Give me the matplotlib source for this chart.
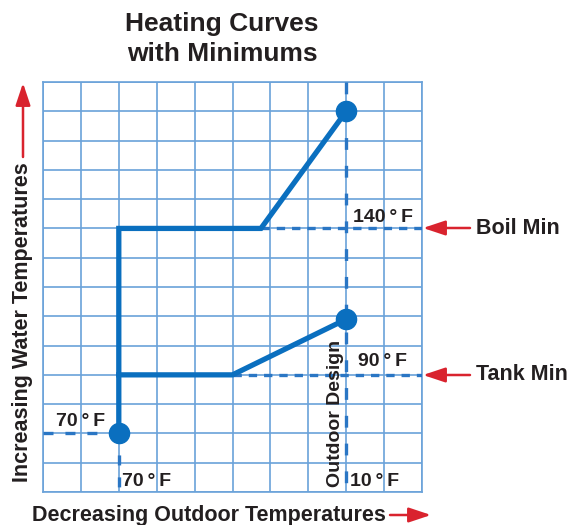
import matplotlib
matplotlib.use("Agg")
import matplotlib.pyplot as plt

plt.rcParams["font.family"] = ["Liberation Sans", "DejaVu Sans"]
plt.rcParams["font.weight"] = "bold"

# Grid extent (outdoor temperature steps x water temperature steps)
n_cols = 10
n_rows = 14

# Heating curves: (outdoor position, water position)
boil_x = [2, 2, 5.75, 8]
boil_y = [2, 9, 9, 13]
tank_x = [2, 5, 8]
tank_y = [4, 4, 5.9]

# Reference levels
indoor_x = 2          # 70°F outdoor (no heat demand)
design_x = 8          # outdoor design temperature (10°F)
start_y = 2           # 70°F water start
boil_min_y = 9        # 140°F boiler minimum
tank_min_y = 4        # 90°F tank minimum

title_text = "Heating Curves\nwith Minimums"
x_label = "Decreasing Outdoor Temperatures"
y_label = "Increasing Water Temperatures"

W, H = 575, 525
fig = plt.figure(figsize=(W / 100, H / 100), dpi=100)
ax = fig.add_axes([43 / W, 1 - 492 / H, (422 - 43) / W, (492 - 82) / H])
ax.set_xlim(0, n_cols)
ax.set_ylim(0, n_rows)

grid_c = "#6aa2d9"
line_c = "#0a6fbf"
dash_c = "#2a76c4"
red = "#d9232e"
txt_c = "#231f20"

ax.set_xticks(range(n_cols + 1))
ax.set_yticks(range(n_rows + 1))
ax.tick_params(length=0, labelbottom=False, labelleft=False)
ax.grid(True, color=grid_c, lw=1.2)
for s in ax.spines.values():
    s.set_color(grid_c)
    s.set_linewidth(1.2)

DASH_LW = 2.4


def dashed(xs, ys, on, off):
    # on/off given in points; matplotlib scales dash patterns by line width
    ln, = ax.plot(xs, ys, color=dash_c, lw=DASH_LW, zorder=3, dash_capstyle="butt")
    ln.set_dashes([on / DASH_LW, off / DASH_LW])
    return ln


dashed([boil_x[2], n_cols], [boil_min_y, boil_min_y], 6.0, 5.0)
dashed([tank_x[1], n_cols], [tank_min_y, tank_min_y], 6.0, 5.0)
dashed([design_x, design_x], [n_rows, 0], 8.5, 11.5)
dashed([0, indoor_x], [start_y, start_y], 7.2, 8.6)
dashed([indoor_x, indoor_x], [start_y, 0], 7.2, 8.6)

ax.plot(boil_x, boil_y, color=line_c, lw=3.8, solid_joinstyle="miter", zorder=4)
ax.plot(tank_x, tank_y, color=line_c, lw=3.8, solid_joinstyle="miter", zorder=4)
ax.plot([boil_x[0], boil_x[-1], tank_x[-1]], [boil_y[0], boil_y[-1], tank_y[-1]],
        "o", color=line_c, ms=14.5, zorder=5)


def px(x, y):
    return x / W, 1 - y / H


fs_lab = 14
fig.text(*px(222, 39), title_text, ha="center", va="center", fontsize=19,
         color=txt_c, linespacing=1.3)
fig.text(*px(209, 515), x_label, ha="center", va="center", fontsize=15.5, color=txt_c)
fig.text(*px(23, 322), y_label, ha="center", va="center", rotation=90,
         fontsize=15.5, color=txt_c)

fig.text(*px(383, 217), "140\u2009°\u2009F", ha="center", va="center", fontsize=fs_lab, color=txt_c)
fig.text(*px(383, 362), "90\u2009°\u2009F", ha="center", va="center", fontsize=fs_lab, color=txt_c)
fig.text(*px(81, 422), "70\u2009°\u2009F", ha="center", va="center", fontsize=fs_lab, color=txt_c)
fig.text(*px(147, 482), "70\u2009°\u2009F", ha="center", va="center", fontsize=fs_lab, color=txt_c)
fig.text(*px(375, 482), "10\u2009°\u2009F", ha="center", va="center", fontsize=fs_lab, color=txt_c)
fig.text(*px(335, 413), "Outdoor Design", ha="center", va="center", rotation=90,
         fontsize=fs_lab, color=txt_c)

fig.text(*px(476, 228), "Boil Min", ha="left", va="center", fontsize=15.5, color=txt_c)
fig.text(*px(476, 375), "Tank Min", ha="left", va="center", fontsize=15.5, color=txt_c)

akw = dict(arrowstyle="-|>,head_length=0.9,head_width=0.3", color=red, lw=1.8,
           shrinkA=0, shrinkB=0, mutation_scale=15)


def arrow(x0, y0, x1, y1):
    ax.annotate("", xy=(x1, H - y1), xycoords="figure pixels",
                xytext=(x0, H - y0), textcoords="figure pixels",
                arrowprops=akw, annotation_clip=False)


arrow(470, 228, 423, 228)
arrow(470, 375, 423, 375)
arrow(23, 157, 23, 83)
arrow(390, 515, 431, 515)

fig.savefig("out.png", dpi=100)
